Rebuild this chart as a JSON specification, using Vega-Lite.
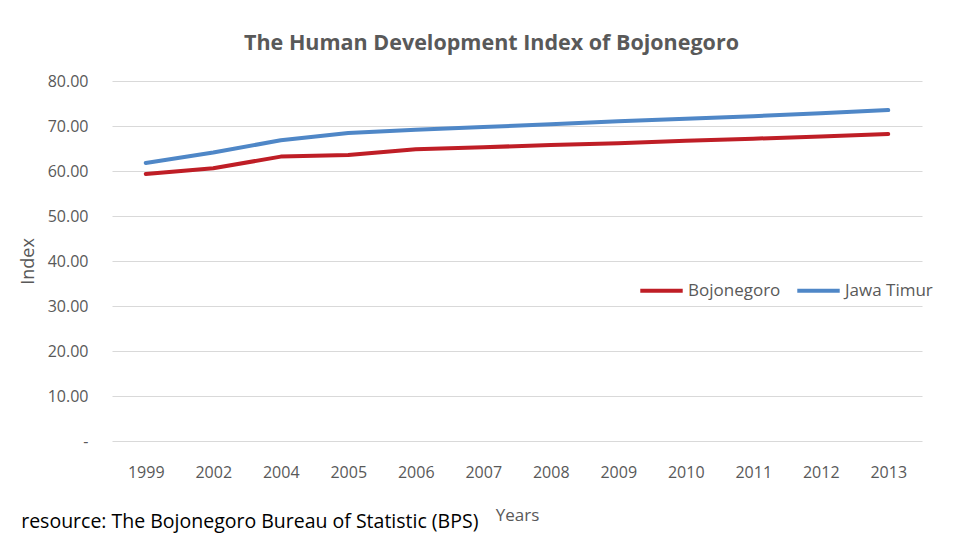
{
  "$schema": "https://vega.github.io/schema/vega-lite/v6.json",
  "width": 810,
  "height": 360,
  "autosize": {"type": "none"},
  "padding": {"left": 112, "top": 81, "right": 55, "bottom": 95},
  "background": "white",
  "title": {
    "text": "resource: The Bojonegoro Bureau of Statistic (BPS)",
    "orient": "bottom",
    "anchor": "start",
    "frame": "bounds",
    "fontSize": 19.5,
    "fontWeight": "normal",
    "color": "#000000",
    "offset": -10,
    "dx": 2
  },
  "data": {
    "values": [
      {"year": "1999", "region": "Bojonegoro", "value": 59.35},
      {"year": "2002", "region": "Bojonegoro", "value": 60.6},
      {"year": "2004", "region": "Bojonegoro", "value": 63.2},
      {"year": "2005", "region": "Bojonegoro", "value": 63.54},
      {"year": "2006", "region": "Bojonegoro", "value": 64.83},
      {"year": "2007", "region": "Bojonegoro", "value": 65.27},
      {"year": "2008", "region": "Bojonegoro", "value": 65.78},
      {"year": "2009", "region": "Bojonegoro", "value": 66.17},
      {"year": "2010", "region": "Bojonegoro", "value": 66.72},
      {"year": "2011", "region": "Bojonegoro", "value": 67.19},
      {"year": "2012", "region": "Bojonegoro", "value": 67.64},
      {"year": "2013", "region": "Bojonegoro", "value": 68.21},
      {"year": "1999", "region": "Jawa Timur", "value": 61.8},
      {"year": "2002", "region": "Jawa Timur", "value": 64.1},
      {"year": "2004", "region": "Jawa Timur", "value": 66.84},
      {"year": "2005", "region": "Jawa Timur", "value": 68.42},
      {"year": "2006", "region": "Jawa Timur", "value": 69.18},
      {"year": "2007", "region": "Jawa Timur", "value": 69.78},
      {"year": "2008", "region": "Jawa Timur", "value": 70.38},
      {"year": "2009", "region": "Jawa Timur", "value": 71.06},
      {"year": "2010", "region": "Jawa Timur", "value": 71.62},
      {"year": "2011", "region": "Jawa Timur", "value": 72.18},
      {"year": "2012", "region": "Jawa Timur", "value": 72.83},
      {"year": "2013", "region": "Jawa Timur", "value": 73.54}
    ]
  },
  "layer": [
    {
      "mark": {"type": "line", "strokeWidth": 4, "strokeCap": "round", "strokeJoin": "round"},
      "encoding": {
        "x": {
          "field": "year",
          "type": "ordinal",
          "axis": {
            "grid": false,
            "ticks": false,
            "domain": false,
            "labelAngle": 0,
            "labelPadding": 23,
            "labelFontSize": 16,
            "labelColor": "#595959",
            "title": "Years",
            "titleFontSize": 17,
            "titleFontWeight": "normal",
            "titleColor": "#595959",
            "titlePadding": 27
          }
        },
        "y": {
          "field": "value",
          "type": "quantitative",
          "scale": {"domain": [0, 80], "nice": false},
          "axis": {
            "values": [0, 10, 20, 30, 40, 50, 60, 70, 80],
            "labelExpr": "datum.value == 0 ? '-' : format(datum.value, '.2f')",
            "grid": true,
            "gridColor": "#d9d9d9",
            "gridWidth": 1.2,
            "domain": false,
            "ticks": false,
            "labelPadding": 24,
            "labelFontSize": 16,
            "labelColor": "#595959",
            "title": "Index",
            "titleFontSize": 18,
            "titleFontWeight": "normal",
            "titleColor": "#595959",
            "titlePadding": 10
          }
        },
        "color": {
          "field": "region",
          "type": "nominal",
          "scale": {"domain": ["Bojonegoro", "Jawa Timur"], "range": ["#BF1E26", "#4F87C7"]},
          "legend": {
            "orient": "none",
            "legendX": 526,
            "legendY": 186,
            "direction": "horizontal",
            "title": null,
            "symbolType": "stroke",
            "symbolSize": 1800,
            "symbolStrokeWidth": 4,
            "labelFontSize": 17,
            "labelColor": "#595959",
            "labelOffset": 3,
            "columnPadding": 8
          }
        }
      }
    },
    {
      "mark": {"type": "point", "opacity": 0},
      "encoding": {
        "x": {
          "field": "year",
          "type": "ordinal",
          "axis": {
            "orient": "top",
            "labels": false,
            "ticks": false,
            "domain": false,
            "grid": false,
            "title": "The Human Development Index of Bojonegoro",
            "titleFontSize": 21.5,
            "titleFontWeight": "bold",
            "titleColor": "#595959",
            "titlePadding": 27,
            "titleX": 379
          }
        }
      }
    }
  ],
  "resolve": {"axis": {"x": "independent"}},
  "config": {
    "font": "Open Sans",
    "view": {"stroke": null}
  }
}
